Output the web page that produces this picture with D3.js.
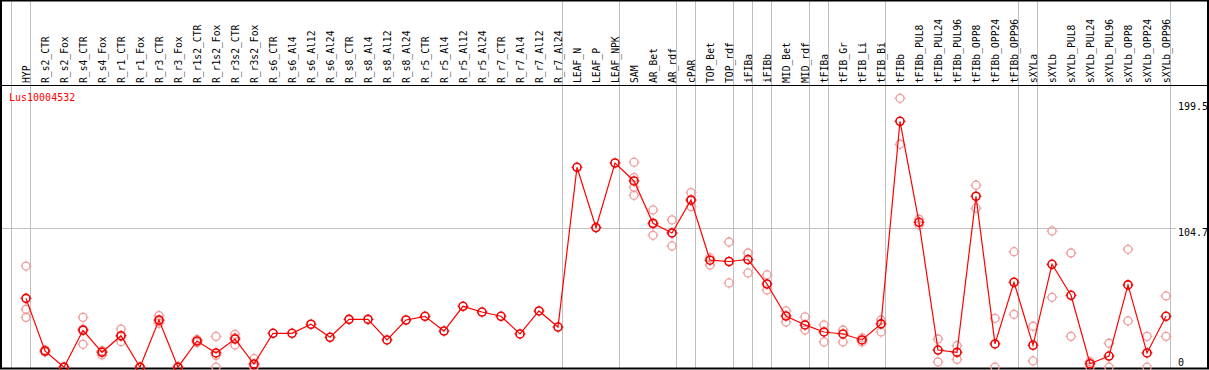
<!DOCTYPE html>
<html>
<head>
<meta charset="utf-8">
<script src="https://cdn.jsdelivr.net/npm/d3@7"></script>
<style>
    body { margin: 0; background: #fff; }
    text { font-family: "DejaVu Sans Mono", monospace; font-size: 10px; }
    .sample { font-size: 9.7px; }
</style>
</head>
<body>
<div id="chartDiv"></div>
<script>
// Gene name shown in the top-left corner of the plot
var geneName = "Lus10004532";

// Samples (one column each)
var categories = ["HYP", "R_s2_CTR", "R_s2_Fox", "R_s4_CTR", "R_s4_Fox", "R_r1_CTR", "R_r1_Fox",
    "R_r3_CTR", "R_r3_Fox", "R_r1s2_CTR", "R_r1s2_Fox", "R_r3s2_CTR", "R_r3s2_Fox", "R_s6_CTR",
    "R_s6_Al4", "R_s6_Al12", "R_s6_Al24", "R_s8_CTR", "R_s8_Al4", "R_s8_Al12", "R_s8_Al24",
    "R_r5_CTR", "R_r5_Al4", "R_r5_Al12", "R_r5_Al24", "R_r7_CTR", "R_r7_Al4", "R_r7_Al12",
    "R_r7_Al24", "LEAF_N", "LEAF_P", "LEAF_NPK", "SAM", "AR_Bet", "AR_rdf", "cPAR", "TOP_Bet",
    "TOP_rdf", "iFIBa", "iFIBb", "MID_Bet", "MID_rdf", "tFIBa", "tFIB_Gr", "tFIB_Li", "tFIB_Bi",
    "tFIBb", "tFIBb_PUL8", "tFIBb_PUL24", "tFIBb_PUL96", "tFIBb_OPP8", "tFIBb_OPP24", "tFIBb_OPP96",
    "sXYLa", "sXYLb", "sXYLb_PUL8", "sXYLb_PUL24", "sXYLb_PUL96", "sXYLb_OPP8", "sXYLb_OPP24",
    "sXYLb_OPP96"];

// Mean expression per sample
var meanValues = [51.8, 12.2, 0, 27.8, 11.2, 23.7, 0, 35.5, 0, 19.7, 10.7, 21.2, 2.4, 25.5,
    25.5, 32.3, 22.5, 36.0, 36.0, 20.5, 35.5, 38.3, 27.2, 45.8, 41.5, 38.3, 25.0, 42.3,
    30.2, 150.4, 105.0, 153.6, 140.1, 108.3, 101.0, 125.8, 80.5,
    79.5, 81.0, 62.6, 38.5, 31.8, 26.5, 25.0, 20.5, 32.6,
    185.0, 109.0, 12.9, 11.2, 128.6, 17.5, 63.9,
    16.5, 77.4, 54.1, 2.6, 8.4, 61.9, 10.7,
    38.3];

// Replicate values per sample (empty when none shown)
var replicates = [[76.1, 43.6, 37.5], [13.0, 11.4], [0, 0], [37.5, 17.2, 28.7], [12.4, 9.2, 11.9],
    [28.7, 19.2, 23.2], [0, 0], [38.8, 33.0, 34.7], [0, 0], [18.5, 20.9], [23.2, 0, 8.9],
    [24.7, 16.7, 22.2], [6.4, 0, 0.8], [], [], [], [], [], [], [], [], [], [], [], [], [], [], [],
    [], [], [], [], [154.2, 142.6, 135.4, 129.3], [118.3, 99.2, 107.4], [110.8, 91.2, 101.0],
    [131.3, 120.8, 125.3], [82.2, 76.9], [94.2, 63.4], [85.9, 70.9], [69.4, 58.1], [42.3, 34.0],
    [37.8, 28.0], [31.8, 19.0], [28.0, 19.0], [22.0, 19.0], [35.5, 26.5],
    [202.3, 167.7], [111.3, 107.0], [21.2, 3.9], [16.2, 5.9], [136.9, 119.6], [36.8, 0], [86.9, 39.8],
    [30.8, 4.7], [102.5, 52.6], [85.9, 23.2], [4.1, 0], [18.0, 0], [88.7, 34.8], [23.2, 0],
    [53.6, 23.2]];

// Sample groups: a separator is drawn after each of these column indices (-1 = before the first)
var groupEnds = [-1, 0, 28, 31, 34, 35, 37, 38, 39, 41, 42, 45, 52, 53, 60];

// Value ticks shown on the right
var yTicks = [0, 104.7, 199.5];

var canvas = { width: 1209, height: 370 };
var headerBottom = 85;
var plotBottom = 368;

var svg = d3.select("#chartDiv")
    .append("svg")
    .attr("width", canvas.width)
    .attr("height", canvas.height)
    .style("display", "block");

// scales
var x = d3.scaleBand()
    .domain(categories)
    .range([11, 11 + 19 * categories.length])
    .padding(0);
var y = d3.scaleLinear()
    .domain([0, 199.5])
    .range([367.2, 102]);

var colX = function(i) { return x(categories[i]) + 15; };

// horizontal grid line at the middle tick
svg.append("line")
    .attr("x1", 1).attr("x2", 1176)
    .attr("y1", Math.round(y(104.7)) + 0.5).attr("y2", Math.round(y(104.7)) + 0.5)
    .style("stroke", "#c0c0c0");

// vertical group separators
svg.append("g")
    .selectAll("line")
    .data(groupEnds)
    .enter()
    .append("line")
    .attr("x1", function(d) { return x(categories[0]) + 19 * (d + 1) + 0.5; })
    .attr("x2", function(d) { return x(categories[0]) + 19 * (d + 1) + 0.5; })
    .attr("y1", 0)
    .attr("y2", plotBottom)
    .style("stroke", "#c0c0c0");

// frame and header separator
svg.append("rect")
    .attr("x", 1).attr("y", 0.5)
    .attr("width", canvas.width - 2).attr("height", plotBottom)
    .style("fill", "none")
    .style("stroke", "#000")
    .style("stroke-width", 2);
svg.append("line")
    .attr("x1", 0).attr("x2", canvas.width)
    .attr("y1", headerBottom + 0.5).attr("y2", headerBottom + 0.5)
    .style("stroke", "#000");

// rotated sample labels
svg.append("g")
    .selectAll("text")
    .data(categories)
    .enter()
    .append("text")
    .attr("class", "sample")
    .attr("transform", function(d) {
        return "translate(" + (x(d) + 18.5) + "," + (headerBottom - 2) + ")rotate(-90)";
    })
    .style("text-anchor", "start")
    .style("fill", "#000")
    .text(function(d) { return d; });

// gene name
svg.append("text")
    .attr("x", 9)
    .attr("y", 100.5)
    .style("fill", "#ff0000")
    .text(geneName);

// value labels on the right
svg.append("g")
    .selectAll("text")
    .data(yTicks)
    .enter()
    .append("text")
    .attr("x", 1178)
    .attr("y", function(d) { return d === 0 ? y(d) - 1.5 : y(d) + 8; })
    .style("fill", "#000")
    .text(function(d) { return d; });

// marker: circle with four small ticks
function drawMarker(g, cx, cy, color, width) {
    var m = g.append("g").attr("transform", "translate(" + cx + "," + cy + ")");
    m.append("circle")
        .attr("r", 4)
        .style("fill", "none")
        .style("stroke", color)
        .style("stroke-width", width);
    [[0, -4, 0, -5.5], [0, 4, 0, 5.5], [-4, 0, -5.5, 0], [4, 0, 5.5, 0]].forEach(function(t) {
        m.append("line")
            .attr("x1", t[0]).attr("y1", t[1]).attr("x2", t[2]).attr("y2", t[3])
            .style("stroke", color)
            .style("stroke-width", 1);
    });
}

// replicate points
var repLayer = svg.append("g");
replicates.forEach(function(reps, i) {
    reps.forEach(function(v) {
        drawMarker(repLayer, colX(i), y(v), "#ef9a9a", 1.3);
    });
});

// mean line
var line = d3.line()
    .x(function(d, i) { return colX(i); })
    .y(function(d) { return y(d); });

svg.append("path")
    .datum(meanValues)
    .attr("d", line)
    .style("fill", "none")
    .style("stroke", "#ff0000")
    .style("stroke-width", 1.2);

// mean points
var meanLayer = svg.append("g");
meanValues.forEach(function(v, i) {
    drawMarker(meanLayer, colX(i), y(v), "#ee0000", 1.6);
});
</script>
</body>
</html>
